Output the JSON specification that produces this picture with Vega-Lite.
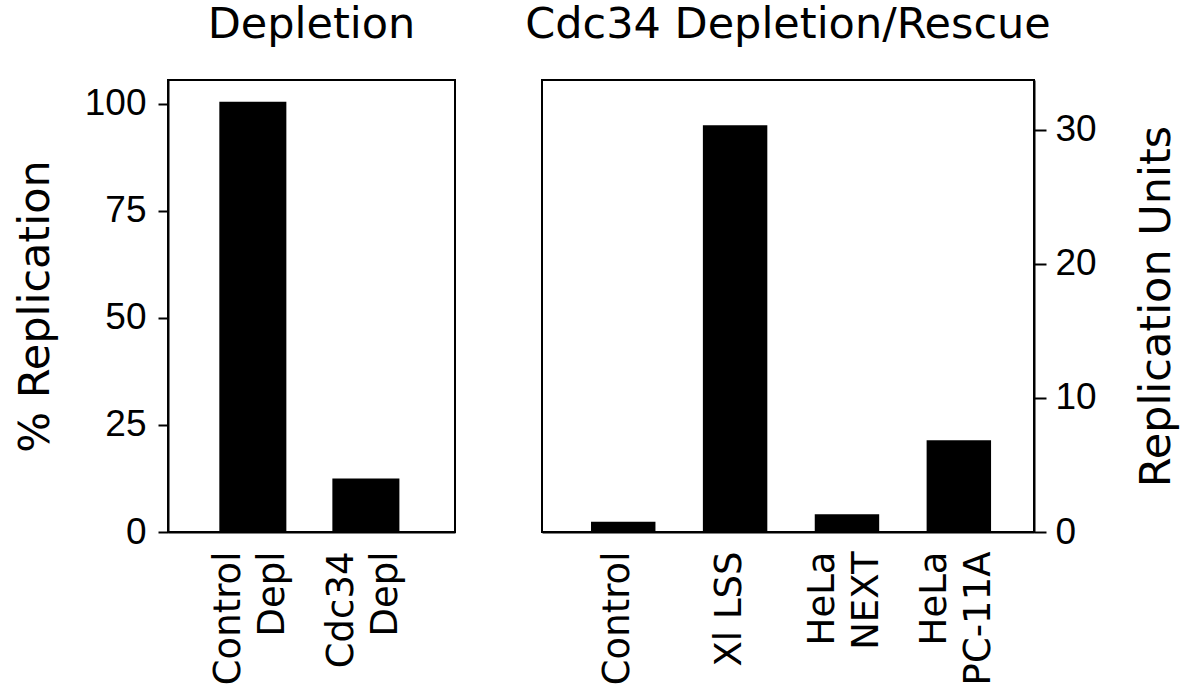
{
  "$schema": "https://vega.github.io/schema/vega-lite/v6.json",
  "background": "white",
  "padding": {"left": 13, "top": 3, "right": 5, "bottom": 5},
  "bounds": "flush",
  "spacing": 87,
  "config": {
    "view": {"stroke": "black", "strokeWidth": 2},
    "axis": {"domainColor": "black", "domainWidth": 2, "tickColor": "black", "tickWidth": 2, "labelColor": "black", "titleColor": "black", "grid": false},
    "title": {"font": "DejaVu Sans", "fontSize": 43, "fontWeight": "normal", "color": "black", "offset": 33}
  },
  "hconcat": [
    {
      "title": "Depletion",
      "width": 287,
      "height": 452,
      "data": {"values": [
        {"cond": "Control|Depl", "pct": 100.5},
        {"cond": "Cdc34|Depl", "pct": 12.5}
      ]},
      "mark": {"type": "bar", "color": "black"},
      "encoding": {
        "x": {
          "field": "cond", "type": "nominal", "sort": null,
          "scale": {"paddingInner": 0.407, "paddingOuter": 0.473, "align": 0.48},
          "axis": {"title": null, "labelAngle": -90, "labelExpr": "split(datum.value, '|')", "labelFont": "DejaVu Sans", "labelFontSize": 37, "labelLineHeight": 44, "ticks": false, "labelPadding": 19, "labelAlign": "right", "labelBaseline": "middle", "labelLimit": 400,
            "labelOffset": {"condition": {"test": "indexof(datum.value, '|') >= 0", "value": -24}, "value": -5}}
        },
        "y": {
          "field": "pct", "type": "quantitative",
          "scale": {"domain": [0, 105.6], "nice": false, "zero": true},
          "axis": {"title": "% Replication", "values": [0, 25, 50, 75, 100], "tickSize": 10, "labelPadding": 12, "labelFont": "Liberation Sans", "labelFontSize": 37, "titleFont": "DejaVu Sans", "titleFontSize": 43, "titleFontWeight": "normal", "titlePadding": 27}
        }
      }
    },
    {
      "title": "Cdc34 Depletion/Rescue",
      "width": 492,
      "height": 452,
      "data": {"values": [
        {"cond": "Control", "units": 0.77},
        {"cond": "Xl LSS", "units": 30.33},
        {"cond": "HeLa|NEXT", "units": 1.32},
        {"cond": "HeLa|PC-11A", "units": 6.84}
      ]},
      "mark": {"type": "bar", "color": "black"},
      "encoding": {
        "x": {
          "field": "cond", "type": "nominal", "sort": null,
          "scale": {"paddingInner": 0.424, "paddingOuter": 0.411, "align": 0.533},
          "axis": {"title": null, "labelAngle": -90, "labelExpr": "split(datum.value, '|')", "labelFont": "DejaVu Sans", "labelFontSize": 37, "labelLineHeight": 44, "ticks": false, "labelPadding": 19, "labelAlign": "right", "labelBaseline": "middle", "labelLimit": 400,
            "labelOffset": {"condition": {"test": "indexof(datum.value, '|') >= 0", "value": -24}, "value": -5}}
        },
        "y": {
          "field": "units", "type": "quantitative",
          "scale": {"domain": [0, 33.7], "nice": false, "zero": true},
          "axis": {"orient": "right", "title": "Replication Units", "titleAngle": 270, "values": [0, 10, 20, 30], "tickSize": 12, "labelPadding": 9, "labelFont": "Liberation Sans", "labelFontSize": 37, "titleFont": "DejaVu Sans", "titleFontSize": 43, "titleFontWeight": "normal", "titlePadding": 82}
        }
      }
    }
  ]
}
